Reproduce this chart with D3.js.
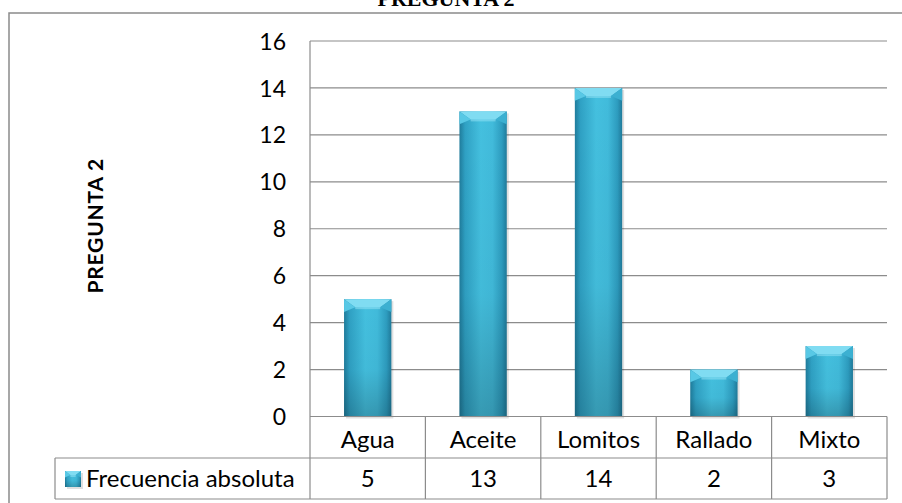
<!DOCTYPE html>
<html><head><meta charset="utf-8">
<script src="https://cdn.jsdelivr.net/npm/d3@7"></script>
<style>body{margin:0;background:#fff}svg{display:block}</style>
</head><body>
<script>
const categories = ["Agua","Aceite","Lomitos","Rallado","Mixto"];
const values = [5,13,14,2,3];
const yTicks = [0,2,4,6,8,10,12,14,16];
const seriesName = "Frecuencia absoluta";
const chartTitle = "PREGUNTA 2";
const axisTitle = "PREGUNTA 2";

(function(){
const W=902,H=503;
const FONT="Lato, Open Sans, sans-serif";
const svg=d3.select("body").append("svg").attr("width",W).attr("height",H);
const defs=svg.append("defs");
const g1=defs.append("linearGradient").attr("id","barH").attr("x1","0").attr("x2","1").attr("y1","0").attr("y2","0");
[[0,"#1f7c9c"],[0.12,"#2fa1c4"],[0.45,"#44c0df"],[0.7,"#41bbdb"],[0.9,"#2d9cbf"],[1,"#207b9b"]].forEach(s=>g1.append("stop").attr("offset",s[0]).attr("stop-color",s[1]));
const g2=defs.append("linearGradient").attr("id","barV").attr("x1","0").attr("x2","0").attr("y1","0").attr("y2","1");
[[0,"#000",0],[0.6,"#000",0.03],[1,"#000",0.2]].forEach(s=>g2.append("stop").attr("offset",s[0]).attr("stop-color",s[1]).attr("stop-opacity",s[2]));

const pL=310,pR=887,pT=41,pB=416.5,tableBottom=499,rowSplit=458,tableLeft=55;
const x=d3.scaleBand().domain(categories).range([pL,pR]).paddingInner(0.59).paddingOuter(0.295);
const y=d3.scaleLinear().domain([0,16]).range([pB,pT]);

svg.append("rect").attr("x",9).attr("y",13).attr("width",W+10).attr("height",H+10).attr("fill","none").attr("stroke","#8a8a8a").attr("stroke-width",1.5);

svg.append("text").attr("x",446).attr("y",6).attr("text-anchor","middle").attr("font-family","Liberation Serif, Times New Roman, serif").attr("font-weight","bold").attr("font-size",22).text(chartTitle);

svg.append("g").selectAll("line").data(yTicks.filter(d=>d>0)).join("line")
 .attr("x1",pL).attr("x2",pR).attr("y1",d=>y(d)).attr("y2",d=>y(d)).attr("stroke","#8c8c8c").attr("stroke-width",1.2);

const yAxis=d3.axisLeft(y).tickValues(yTicks).tickSize(0).tickPadding(0);
const ya=svg.append("g").attr("transform",`translate(${pL-24},0)`).call(yAxis);
ya.select(".domain").remove();
ya.selectAll("text").attr("font-family",FONT).attr("font-size",23).attr("fill","#000").attr("dy","0.35em");

svg.append("text").attr("transform",`translate(103,${(pT+pB)/2-3}) rotate(-90)`).attr("text-anchor","middle")
 .attr("font-family",FONT).attr("font-weight","bold").attr("font-size",21).attr("letter-spacing",0.8).text(axisTitle);

function bar(gs,x0,y0,w,h,bev){
  gs.append("rect").attr("x",x0+2).attr("y",y0+2).attr("width",w).attr("height",h).attr("fill","#000").attr("opacity",0.12);
  gs.append("rect").attr("x",x0).attr("y",y0).attr("width",w).attr("height",h).attr("fill","url(#barH)");
  gs.append("rect").attr("x",x0).attr("y",y0).attr("width",w).attr("height",h).attr("fill","url(#barV)");
  const bx=Math.min(bev*1.4,w/3), by=Math.min(bev,h/2);
  gs.append("polygon").attr("points",`${x0},${y0} ${x0+w},${y0} ${x0+w-bx},${y0+by} ${x0+bx},${y0+by}`).attr("fill","#80dcf2");
  gs.append("polygon").attr("points",`${x0},${y0} ${x0+bx},${y0+by} ${x0},${y0+by*1.6}`).attr("fill","#58c8e5");
  gs.append("polygon").attr("points",`${x0+w},${y0} ${x0+w-bx},${y0+by} ${x0+w},${y0+by*1.6}`).attr("fill","#3cb0d1");
  gs.append("rect").attr("x",x0+bx).attr("y",y0+by).attr("width",Math.max(0,w-2*bx)).attr("height",2).attr("fill","#9ae6f7").attr("opacity",0.5);
}
const bg=svg.append("g");
categories.forEach((c,i)=>{
  bar(bg.append("g"),x(c),y(values[i]),x.bandwidth(),pB-y(values[i]),8);
});

const tg=svg.append("g").attr("stroke","#8c8c8c").attr("stroke-width",1.2).attr("fill","none");
const step=(pR-pL)/categories.length;
tg.append("line").attr("x1",pL).attr("x2",pL).attr("y1",pT).attr("y2",tableBottom);
tg.append("line").attr("x1",pL).attr("x2",pR).attr("y1",pB).attr("y2",pB);
tg.append("line").attr("x1",tableLeft).attr("x2",pR).attr("y1",rowSplit).attr("y2",rowSplit);
tg.append("line").attr("x1",tableLeft).attr("x2",pR).attr("y1",tableBottom).attr("y2",tableBottom);
tg.append("line").attr("x1",tableLeft).attr("x2",tableLeft).attr("y1",rowSplit).attr("y2",tableBottom);
for(let i=1;i<=categories.length;i++){
  tg.append("line").attr("x1",pL+i*step).attr("x2",pL+i*step).attr("y1",pB).attr("y2",tableBottom);
}
const txt=svg.append("g").attr("font-family",FONT).attr("font-size",24).attr("text-anchor","middle").attr("fill","#000");
categories.forEach((c,i)=>{
  const cx=pL+(i+0.5)*step;
  txt.append("text").attr("x",cx).attr("y",(pB+rowSplit)/2+2).attr("dy","0.35em").text(c);
  txt.append("text").attr("x",cx).attr("y",(rowSplit+tableBottom)/2).attr("dy","0.35em").text(values[i]);
});
bar(svg.append("g"),65,471,16,16,4);
svg.append("text").attr("x",86).attr("y",(rowSplit+tableBottom)/2).attr("dy","0.35em").attr("font-family",FONT).attr("font-size",24).text(seriesName);
})();
</script>
</body></html>
